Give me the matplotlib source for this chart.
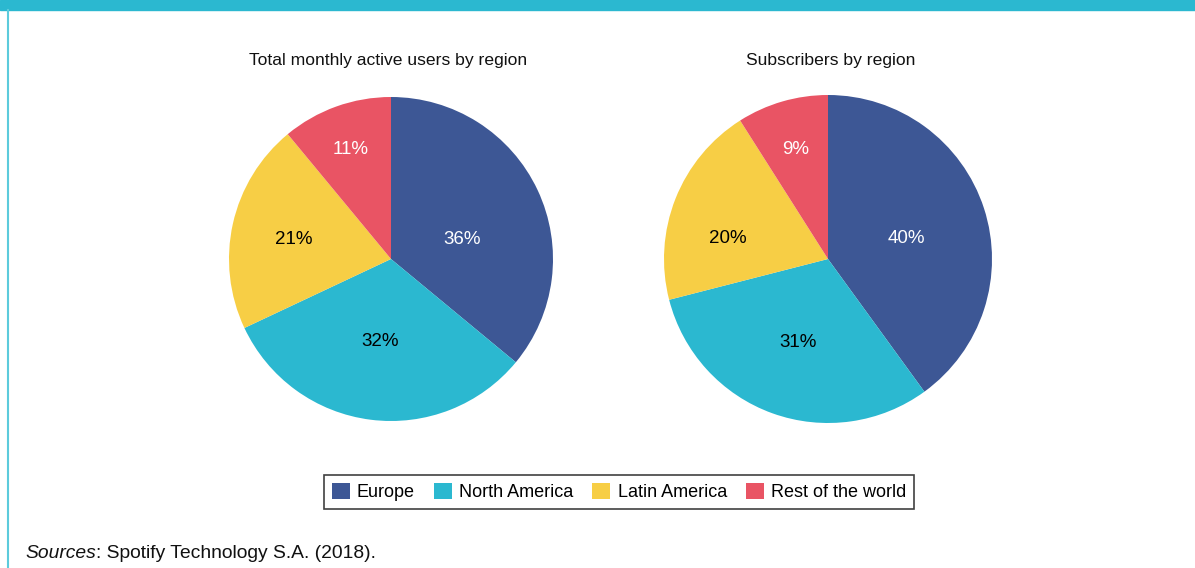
import matplotlib.pyplot as plt
from matplotlib.patches import Patch, Rectangle
from matplotlib.lines import Line2D

plt.rcParams['font.family'] = ['Liberation Sans', 'DejaVu Sans']

# -------------------------
# Data
# -------------------------
regions = ["Europe", "North America", "Latin America", "Rest of the world"]
mau_share = [36, 32, 21, 11]
subs_share = [40, 31, 20, 9]
titles = ["Total monthly active users by region", "Subscribers by region"]
source_note = "Spotify Technology S.A. (2018)."

colors = ["#3D5795", "#2BB8D0", "#F7CE45", "#E95464"]
label_colors = ["white", "black", "black", "white"]

W, H = 1195, 568
fig = plt.figure(figsize=(W / 100, H / 100), dpi=100)

# frame decoration: teal band on top, thin line on the left
fig.patches.append(Rectangle((0, 1 - 10 / H), 1, 10 / H, transform=fig.transFigure,
                             color="#2BB8D0", zorder=0))
fig.lines.append(Line2D([8 / W, 8 / W], [0, 1 - 10 / H], transform=fig.transFigure,
                        color="#5CCBDC", lw=1.5))

# label offsets (in radius units) per wedge, for each pie
label_offsets = [
    [(0.44, 0.123), (-0.07, -0.512), (-0.60, 0.123), (-0.25, 0.673)],
    [(0.48, 0.122), (-0.18, -0.507), (-0.61, 0.122), (-0.195, 0.665)],
]
# pie centers and radii in pixels
centers = [(391, 259, 162), (828, 259, 164)]
title_x = [388, 831]

for i, values in enumerate([mau_share, subs_share]):
    cx, cy, r = centers[i]
    ax = fig.add_axes([(cx - r) / W, 1 - (cy + r) / H, 2 * r / W, 2 * r / H])
    ax.pie(values, colors=colors, startangle=90, counterclock=False, radius=1,
           wedgeprops=dict(linewidth=0))
    ax.set_xlim(-1, 1)
    ax.set_ylim(-1, 1)
    ax.set_aspect("equal")
    ax.axis("off")
    for v, (dx, dy), c in zip(values, label_offsets[i], label_colors):
        ax.text(dx, dy, f"{v}%", ha="center", va="center", color=c, fontsize=13.5)
    fig.text(title_x[i] / W, 1 - 61 / H, titles[i], ha="center", va="center",
             fontsize=12.6, color="#111111")

handles = [Patch(facecolor=c, edgecolor="none", label=l) for c, l in zip(colors, regions)]
leg = fig.legend(handles=handles, loc="center", bbox_to_anchor=(619 / W, 1 - 492 / H),
                 ncol=4, frameon=True, fancybox=False, fontsize=13,
                 handlelength=1.0, handleheight=1.0, handletextpad=0.4,
                 columnspacing=1.05, borderpad=0.45, borderaxespad=0)
leg.get_frame().set_edgecolor("#111111")
leg.get_frame().set_linewidth(1.2)

# source line: italic "Sources" followed by the plain note
src = fig.text(25 / W, 1 - 554 / H, "Sources", style="italic", fontsize=13.9,
               ha="left", va="center", color="#111111")
renderer = fig.canvas.get_renderer()
bb = src.get_window_extent(renderer=renderer)
fig.text(bb.x1 / W, 1 - 554 / H, ": " + source_note, fontsize=13.9,
         ha="left", va="center", color="#111111")

fig.savefig("out.png", dpi=100, facecolor="white")
